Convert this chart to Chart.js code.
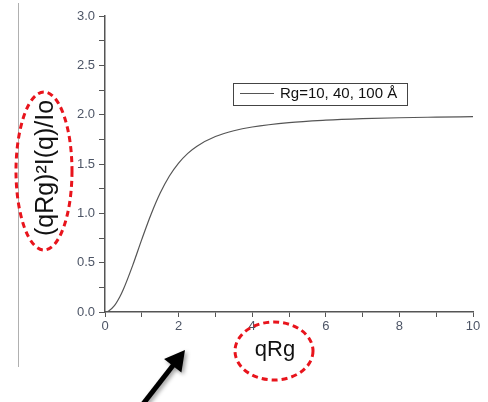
<!DOCTYPE html>
<html><head><meta charset="utf-8">
<script src="https://cdn.jsdelivr.net/npm/chart.js@4/dist/chart.umd.min.js"></script>
<style>html,body{margin:0;padding:0;background:#fff;}#wrap{width:488px;height:402px;position:relative;}</style>
</head><body><div id="wrap"><canvas id="c" width="488" height="402"></canvas></div>
<script>
const qRg = [0, 0.1, 0.25, 0.4, 0.5, 0.75, 1, 1.25, 1.5, 1.75, 2, 2.25, 2.5, 3, 3.5, 4, 5, 6, 7, 8, 9, 10];
const intensity = [0, 0.01, 0.061, 0.152, 0.230, 0.470, 0.736, 0.988, 1.205, 1.378, 1.509, 1.608, 1.681, 1.778, 1.837, 1.875, 1.920, 1.944, 1.959, 1.969, 1.975, 1.980];
const seriesLabel = 'Rg=10, 40, 100 Å';
const xTitle = 'qRg';
const yTitle = '(qRg)²I(q)/Io';
const xTicks = [0, 2, 4, 6, 8, 10];
const yTicks = [0.0, 0.5, 1.0, 1.5, 2.0, 2.5, 3.0];

const tickColor = '#4d5566';
const axisColor = '#555';

const extras = {
  id: 'extras',
  afterDraw(chart) {
    const ctx = chart.ctx;
    ctx.save();
    // left gray border line
    ctx.strokeStyle = '#b0b0b0'; ctx.lineWidth = 1;
    ctx.beginPath(); ctx.moveTo(18.5, 3); ctx.lineTo(18.5, 367); ctx.stroke();
    // legend box
    const lx = 233.5, ly = 83.5, lw = 174, lh = 22;
    ctx.strokeStyle = '#444'; ctx.lineWidth = 1;
    ctx.strokeRect(lx, ly, lw, lh);
    ctx.strokeStyle = axisColor; ctx.lineWidth = 1.2;
    ctx.beginPath(); ctx.moveTo(240, 93.5); ctx.lineTo(274, 93.5); ctx.stroke();
    ctx.fillStyle = '#111';
    ctx.font = '15px "Liberation Sans", Arial, sans-serif';
    ctx.textBaseline = 'middle'; ctx.textAlign = 'left';
    ctx.fillText(chart.data.datasets[0].label, 280, 94);
    // axis titles
    ctx.font = '22px "Liberation Sans", Arial, sans-serif';
    ctx.textAlign = 'center';
    ctx.fillText(xTitle, 275, 350);
    ctx.save();
    ctx.translate(46, 168); ctx.rotate(-Math.PI / 2);
    ctx.font = '25px "Liberation Sans", Arial, sans-serif';
    ctx.fillText(yTitle, 0, 0);
    ctx.restore();
    // red dashed ellipses
    ctx.strokeStyle = '#e8141c'; ctx.lineWidth = 3; ctx.setLineDash([6, 4]);
    ctx.beginPath(); ctx.ellipse(44, 171, 28, 79, 0, 0, Math.PI * 2); ctx.stroke();
    ctx.beginPath(); ctx.ellipse(274, 351, 39, 29, 0, 0, Math.PI * 2); ctx.stroke();
    ctx.setLineDash([]);
    // arrow
    const tx = 185, ty = 350, sx = 143, sy = 404;
    const dx = tx - sx, dy = ty - sy, L = Math.hypot(dx, dy), ux = dx / L, uy = dy / L;
    const hl = 20, hw = 11;
    const bx = tx - ux * hl, by = ty - uy * hl;
    ctx.shadowColor = 'rgba(0,0,0,0.4)'; ctx.shadowBlur = 4; ctx.shadowOffsetX = 2; ctx.shadowOffsetY = 2;
    ctx.strokeStyle = '#000'; ctx.fillStyle = '#000'; ctx.lineWidth = 5;
    ctx.beginPath(); ctx.moveTo(sx, sy); ctx.lineTo(bx + ux * 2, by + uy * 2); ctx.stroke();
    ctx.beginPath(); ctx.moveTo(tx, ty);
    ctx.lineTo(bx - uy * hw, by + ux * hw);
    ctx.lineTo(bx + uy * hw, by - ux * hw);
    ctx.closePath(); ctx.fill();
    ctx.restore();
  }
};

new Chart(document.getElementById('c'), {
  type: 'scatter',
  data: { datasets: [{
    label: seriesLabel,
    data: qRg.map((x, i) => ({ x, y: intensity[i] })),
    showLine: true, borderColor: axisColor, borderWidth: 1.2, pointRadius: 0,
    cubicInterpolationMode: 'monotone', fill: false
  }] },
  options: {
    responsive: false, animation: false, devicePixelRatio: 1,
    layout: { padding: { left: 0, top: 16, right: 15, bottom: 0 } },
    plugins: { legend: { display: false }, tooltip: { enabled: false } },
    scales: {
      x: {
        type: 'linear', min: 0, max: 10,
        afterFit(s) { s.height = 90; },
        border: { display: true, color: axisColor, width: 1.5 },
        grid: { drawOnChartArea: false, drawTicks: true, tickLength: 5, color: axisColor, tickWidth: 1 },
        afterBuildTicks(s) { const t = []; for (let v = 0; v <= 10; v += 1) t.push({ value: v }); s.ticks = t; },
        ticks: { color: tickColor, font: { size: 13, family: '"Liberation Sans", Arial, sans-serif' }, padding: 2, maxRotation: 0, autoSkip: false,
          callback: (v) => xTicks.includes(v) ? String(v) : '' }
      },
      y: {
        type: 'linear', min: 0, max: 3,
        afterFit(s) { s.width = 105; },
        border: { display: true, color: axisColor, width: 1.5 },
        grid: { drawOnChartArea: false, drawTicks: true, tickLength: 6, color: axisColor, tickWidth: 1 },
        afterBuildTicks(s) { const t = []; for (let k = 0; k <= 12; k++) t.push({ value: k * 0.25 }); s.ticks = t; },
        ticks: { color: tickColor, font: { size: 13, family: '"Liberation Sans", Arial, sans-serif' }, padding: 4, autoSkip: false,
          callback: (v) => yTicks.some(t => Math.abs(t - v) < 1e-9) ? v.toFixed(1) : '' }
      }
    }
  },
  plugins: [extras]
});
</script>
</body></html>
